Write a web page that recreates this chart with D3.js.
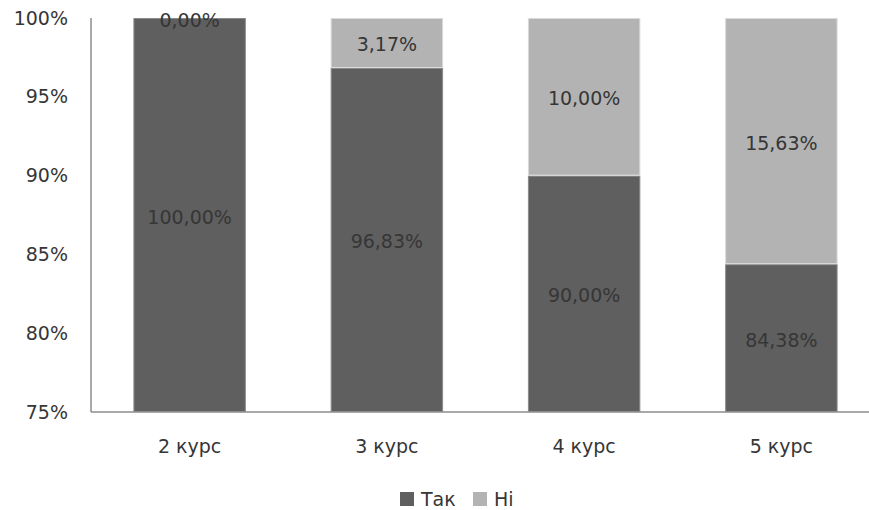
<!DOCTYPE html>
<html>
<head>
<meta charset="utf-8">
<script src="https://cdn.jsdelivr.net/npm/d3@7"></script>
<style>
body { margin: 0; background: #fff; }
text { font-family: "DejaVu Sans", Verdana, sans-serif; fill: #363636; }
</style>
</head>
<body>
<div id="chart"></div>
<script>
const categories = ['2 курс', '3 курс', '4 курс', '5 курс'];
const seriesNames = ['Так', 'Ні'];
const yesValues = [100.00, 96.83, 90.00, 84.38];
const noValues = [0.00, 3.17, 10.00, 15.63];
const yTicks = [75, 80, 85, 90, 95, 100];

const colors = ['#5f5f5f', '#b3b3b3'];
const edges = ['#8a8a8a', '#dadada'];

const width = 869;
const height = 510;
const fontSize = 19;

const svg = d3.select('#chart')
    .append('svg')
    .attr('width', width)
    .attr('height', height);

const x = d3.scaleBand()
    .domain(categories)
    .range([91, 880])
    .paddingInner(0.43)
    .paddingOuter(0.215);

const y = d3.scaleLinear()
    .domain([75, 100])
    .range([412, 18]);

const fmt = v => v.toFixed(2).replace('.', ',') + '%';

const rows = categories.map((c, i) => ({
    cat: c,
    segs: [
        { s: 0, y0: 0, y1: yesValues[i], v: yesValues[i] },
        { s: 1, y0: yesValues[i], y1: yesValues[i] + noValues[i], v: noValues[i] }
    ]
}));

const clip = v => Math.max(75, Math.min(100, v));

const groups = svg.selectAll('g.bar')
    .data(rows)
    .enter()
    .append('g')
    .attr('class', 'bar');

groups.selectAll('rect')
    .data(d => d.segs.map(s => Object.assign({ cat: d.cat }, s)))
    .enter()
    .append('rect')
    .attr('x', d => x(d.cat) + 0.5)
    .attr('y', d => y(clip(d.y1)) + 0.5)
    .attr('width', x.bandwidth() - 1)
    .attr('height', d => Math.max(0, y(clip(d.y0)) - y(clip(d.y1)) - 1))
    .attr('fill', d => colors[d.s])
    .attr('stroke', d => edges[d.s])
    .attr('stroke-width', 1)
    .style('display', d => d.y1 - d.y0 > 0 ? null : 'none');

groups.selectAll('text')
    .data(d => d.segs.map(s => Object.assign({ cat: d.cat }, s)))
    .enter()
    .append('text')
    .attr('x', d => x(d.cat) + x.bandwidth() / 2)
    .attr('y', d => {
        const mid = (clip(d.y0) + clip(d.y1)) / 2;
        return d.v === 0 ? y(100) + 3 : y(mid) + 3;
    })
    .attr('text-anchor', 'middle')
    .attr('dominant-baseline', 'middle')
    .attr('font-size', fontSize)
    .text(d => fmt(d.v));

// axes
svg.append('line')
    .attr('x1', 91).attr('x2', 91)
    .attr('y1', y(100)).attr('y2', y(75))
    .attr('stroke', '#8c8c8c').attr('stroke-width', 1.5);

svg.append('line')
    .attr('x1', 91).attr('x2', width)
    .attr('y1', y(75)).attr('y2', y(75))
    .attr('stroke', '#8c8c8c').attr('stroke-width', 1.5);

svg.selectAll('text.ytick')
    .data(yTicks)
    .enter()
    .append('text')
    .attr('class', 'ytick')
    .attr('x', 68)
    .attr('y', d => y(d) + 1)
    .attr('text-anchor', 'end')
    .attr('dominant-baseline', 'middle')
    .attr('font-size', fontSize)
    .text(d => d + '%');

svg.selectAll('text.xtick')
    .data(categories)
    .enter()
    .append('text')
    .attr('class', 'xtick')
    .attr('x', d => x(d) + x.bandwidth() / 2)
    .attr('y', 447)
    .attr('text-anchor', 'middle')
    .attr('dominant-baseline', 'middle')
    .attr('font-size', fontSize)
    .text(d => d);

// legend
const legendX = [400, 473];
const legend = svg.selectAll('g.legend')
    .data(seriesNames)
    .enter()
    .append('g')
    .attr('class', 'legend')
    .attr('transform', (d, i) => `translate(${legendX[i]},492)`);

legend.append('rect')
    .attr('width', 14)
    .attr('height', 14)
    .attr('fill', (d, i) => colors[i]);

legend.append('text')
    .attr('x', 21)
    .attr('y', 8)
    .attr('dominant-baseline', 'middle')
    .attr('font-size', fontSize)
    .text(d => d);
</script>
</body>
</html>
